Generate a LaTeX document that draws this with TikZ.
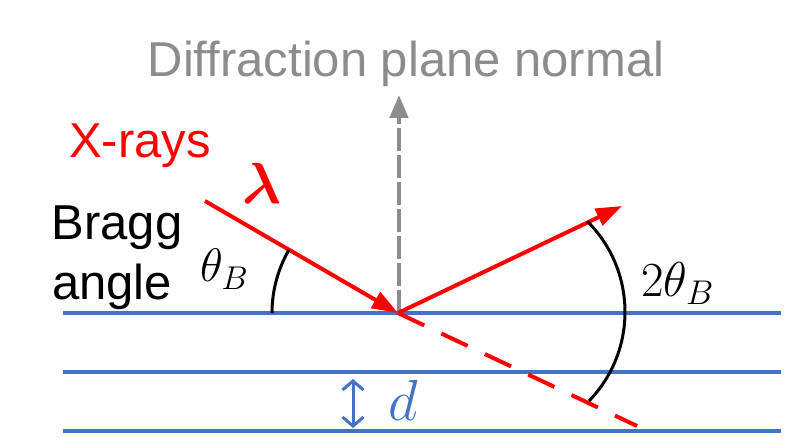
\RequirePackage{fix-cm}
\documentclass[tikz,border=0pt]{standalone}
\usepackage{fontspec}
\setmainfont{Liberation Sans}
\usepackage{bm}
\usetikzlibrary{arrows.meta,calc}
\definecolor{xred}{RGB}{255,0,0}
\definecolor{pblue}{RGB}{68,114,196}
\definecolor{ngray}{RGB}{140,140,140}
\begin{document}
\begin{tikzpicture}[x=1pt,y=1pt,
  plane/.style={draw=pblue,line width=4pt},
  ray/.style={draw=xred,line width=4pt},
  anglearc/.style={draw=black,line width=3pt},
  lbl/.style={inner sep=0pt,anchor=base,font=\fontsize{49}{58}\selectfont}]
\useasboundingbox (0,0) rectangle (807,-438);
% planes
\coordinate (p1l) at (63,-313); \coordinate (p1r) at (781,-313);
\coordinate (p2l) at (63,-372); \coordinate (p2r) at (781,-372);
\coordinate (p3l) at (63,-431); \coordinate (p3r) at (781,-431);
\draw[plane] (p1l) -- (p1r);
\draw[plane] (p2l) -- (p2r);
\draw[plane] (p3l) -- (p3r);
% key points
\coordinate (O) at (398,-313);
\coordinate (A) at (205,-201);
\coordinate (B) at (622,-206);
\coordinate (C) at (637,-426);
\coordinate (Nb) at (399,-313);
\coordinate (Nt) at (399,-95);
% normal
\draw[draw=ngray,line width=4.5pt,dash pattern=on 23pt off 4pt,
  -{Triangle[length=23pt,width=18pt]}] (Nb) -- (Nt);
% rays
\draw[ray,dash pattern=on 29pt off 19pt] (O) -- (C);
\draw[ray,-{Triangle[length=26pt,width=18pt]}] (A) -- (O);
\draw[ray,-{Triangle[length=26pt,width=18pt]}] (O) -- (B);
% angle arcs
\coordinate (a1s) at (272,-313);
\draw[anglearc] (a1s) arc[start angle=180,end angle=150,radius=126];
\coordinate (a2s) at ($(497,-312)+(45:128)$);
\draw[anglearc] (a2s) arc[start angle=45,end angle=-44,radius=128];
% d arrow
\coordinate (dt) at (353,-379);
\coordinate (db) at (353,-428);
\draw[draw=pblue,line width=3pt,{Straight Barb[length=9pt,width=21pt]}-{Straight Barb[length=9pt,width=21pt]}] (dt) -- (db);
% labels
\node[lbl,text=ngray] (title) at (406,-77) {Diffraction plane normal};
\node[lbl,text=xred] (xr) at (140,-158) {X-rays};
\node[lbl,text=xred,font=\fontsize{58}{60}\selectfont] (lam) at (262,-204) {$\bm{\lambda}$};
\node[lbl] (bragg) at (117,-240) {Bragg};
\node[lbl] (angle) at (112,-300) {angle};
\node[lbl,anchor=base west,font=\fontsize{47}{50}\selectfont] (thB) at (200,-282) {$\theta_B$};
\node[lbl,anchor=base west,font=\fontsize{49}{52}\selectfont] (th2B) at (641,-297) {$2\theta_B$};
\node[lbl,text=pblue,font=\fontsize{58}{60}\selectfont] (d) at (403,-421) {$d$};
\end{tikzpicture}
\end{document}
